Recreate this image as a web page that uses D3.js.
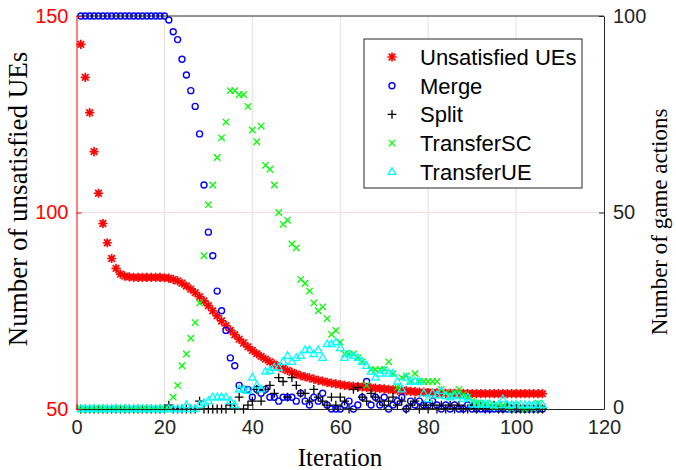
<!DOCTYPE html>
<html lang="en">
<head>
<meta charset="UTF-8">
<title>Unsatisfied UEs and game actions</title>
<script src="https://d3js.org/d3.v7.min.js"></script>
<style>
  body { margin: 0; background: #fff; }
  .tick text { font-family: "Liberation Sans", Arial, sans-serif; font-size: 20px; }
  .title { font-family: "Liberation Serif", "Times New Roman", serif; }
  .legend text { font-family: "Liberation Sans", Arial, sans-serif; font-size: 22px; }
</style>
</head>
<body>
<svg id="chart" width="676" height="470"></svg>
<script>
// iterations 1..106
const iterations = d3.range(1, 107);

const unsatisfied = [
  142.8, 134.4, 125.4, 115.5, 104.9, 97.2, 92.3, 88.3, 85.8, 84.3,
  83.8, 83.6, 83.5, 83.5, 83.5, 83.5, 83.5, 83.5, 83.5, 83.4,
  83.3, 83.0, 82.6, 82.0, 81.3, 80.5, 79.6, 78.6, 77.5, 76.3,
  75.0, 73.7, 72.4, 71.2, 70.0, 68.9, 67.8, 66.8, 65.8, 64.9,
  64.1, 63.4, 62.7, 62.0, 61.4, 60.8, 60.3, 59.8, 59.3, 58.9,
  58.5, 58.2, 57.9, 57.6, 57.3, 57.1, 56.8, 56.6, 56.4, 56.2,
  56.0, 55.9, 55.8, 55.7, 55.6, 55.5, 55.4, 55.3, 55.2, 55.1,
  55.0, 54.9, 54.8, 54.7, 54.6, 54.5, 54.4, 54.3, 54.3, 54.2,
  54.2, 54.1, 54.1, 54.0, 54.0, 54.0, 54.0, 54.0, 53.9, 53.9,
  53.9, 53.9, 53.9, 53.9, 53.9, 53.9, 53.9, 53.9, 53.9, 53.9,
  53.9, 53.9, 53.9, 53.9, 53.9, 53.9
];

const merge = [
  100, 100, 100, 100, 100, 100, 100, 100, 100, 100,
  100, 100, 100, 100, 100, 100, 100, 100, 100, 100,
  99, 96, 94, 89, 85, 81, 77, 70, 57, 45,
  39, 30, 25, 20, 13, 11, 6, 5, 5, 3,
  5, 4, 5, 3, 3, 2, 3, 3, 3, 2,
  4, 2, 1, 3, 2, 4, 1, 0, 0, 0,
  1, 2, 0, 1, 3, 7, 1, 3, 1, 3,
  0, 1, 2, 3, 0, 2, 1, 2, 1, 1,
  2, 1, 0, 1, 0, 1, 0, 0, 1, 0,
  0, 0, 0, 0, 0, 0, 0, 0, 0, 0,
  0, 0, 0, 0, 0, 0
];

const split = [
  0, 0, 0, 0, 0, 0, 0, 0, 0, 0,
  0, 0, 0, 0, 0, 0, 0, 0, 0, 0,
  1, 0, 0, 0, 0, 0, 0, 2, 0, 0,
  0, 0, 0, 0, 1, 0, 3, 0, 1, 2,
  5, 2, 5, 6, 4, 8, 7, 3, 8, 6,
  4, 4, 2, 5, 3, 2, 1, 3, 1, 3,
  2, 0, 5, 5.5, 3, 2, 4, 3, 2, 1,
  2, 3, 1, 2, 0, 1, 2, 0, 1, 0,
  1, 0, 1, 0, 1, 0, 1, 0, 0, 1,
  0, 1, 0, 0, 1, 0, 0, 1, 0, 0,
  0, 0, 0, 0, 0, 0
];

const transferSC = [
  0, 0, 0, 0, 0, 0, 0, 0, 0, 0,
  0, 0, 0, 0, 0, 0, 0, 0, 0, 0,
  0, 3, 6, 11, 14, 18, 22, 27, 39, 52,
  57, 64, 69, 73, 81, 81, 80, 80, 77, 71,
  68, 72, 62, 61, 57, 50, 47, 48, 42, 41,
  33, 32, 30, 27, 25, 26, 23, 19, 20, 17,
  14, 14, 14, 13, 12, 6, 10, 10, 10, 10,
  12, 9, 5.5, 8, 8.4, 7, 9, 7, 7, 7,
  7, 7, 5, 4, 3.5, 4, 5, 3.7, 3, 2,
  1.5, 1, 1.5, 1, 0.5, 1, 1, 0.5, 0, 1,
  0.5, 0, 0.5, 0, 1.5, 0.5
];

const transferUE = [
  0, 0, 0, 0, 0, 0, 0, 0, 0, 0,
  0, 0, 0, 0, 0, 0, 0, 0, 0, 0,
  0, 0, 0, 0, 1, 0, 0, 1, 1.5, 2,
  3, 3, 3, 3, 2, 1, 5, 5, 4.6, 8,
  6, 5, 9.5, 9.7, 10.5, 10.5, 12, 13.5, 12, 13,
  13.5, 15, 15, 14, 15, 13, 16.5, 16.5, 17, 15.5,
  13, 14, 13.5, 13, 12, 11, 9.5, 8, 9, 9.7,
  9, 9, 7, 5, 8, 7, 7, 7, 4, 2.5,
  4, 3.5, 4.6, 3.3, 3, 3.5, 3.3, 2.5, 3, 1.2,
  1.2, 1.2, 1.2, 1.2, 0.5, 1, 2.5, 1, 1, 1,
  1, 1, 1, 1, 1, 1
];

const xTicks = [0, 20, 40, 60, 80, 100, 120];
const leftTicks = [50, 100, 150];
const rightTicks = [0, 50, 100];
const legendLabels = ["Unsatisfied UEs", "Merge", "Split", "TransferSC", "TransferUE"];

const svg = d3.select("#chart");
const x = d3.scaleLinear().domain([0, 120]).range([76.5, 604]);
const yL = d3.scaleLinear().domain([50, 150]).range([409, 16]);
const yR = d3.scaleLinear().domain([0, 100]).range([409, 16]);

// marker shapes, MATLAB style
const markers = {
  star: r => { const a = r * 0.72; return `M0,${-r}L0,${r}M${-r},0L${r},0M${-a},${-a}L${a},${a}M${-a},${a}L${a},${-a}`; },
  plus: r => `M0,${-r}L0,${r}M${-r},0L${r},0`,
  cross: r => `M${-r},${-r}L${r},${r}M${-r},${r}L${r},${-r}`,
  tri: r => `M0,${-r}L${r * 0.9},${r * 0.6}L${-r * 0.9},${r * 0.6}Z`
};

// grid
svg.append("g").selectAll("line").data(xTicks.filter(d => d > 0 && d < 120)).join("line")
  .attr("x1", d => x(d)).attr("x2", d => x(d)).attr("y1", yL(150)).attr("y2", yL(50))
  .attr("stroke", "#e0e0e0").attr("stroke-width", 1);
svg.append("line").attr("x1", x(0)).attr("x2", x(120)).attr("y1", yL(100)).attr("y2", yL(100))
  .attr("stroke", "#ffdada").attr("stroke-width", 1);

// series
const series = [
  { values: unsatisfied, y: yL, color: "#ff0000", shape: "star", size: 4.6, w: 1.7 },
  { values: merge, y: yR, color: "#0000ff", shape: "circle", size: 3, w: 1.4 },
  { values: split, y: yR, color: "#000000", shape: "plus", size: 4.4, w: 1.3 },
  { values: transferSC, y: yR, color: "#00ff00", shape: "cross", size: 3.2, w: 1.3 },
  { values: transferUE, y: yR, color: "#00ffff", shape: "tri", size: 4.2, w: 1.3 }
];

function drawMarker(g, s) {
  if (s.shape === "circle") {
    g.append("circle").attr("r", s.size).attr("fill", "none").attr("stroke", s.color).attr("stroke-width", s.w);
  } else {
    g.append("path").attr("d", markers[s.shape](s.size)).attr("fill", "none")
      .attr("stroke", s.color).attr("stroke-width", s.w);
  }
}

series.forEach(s => {
  const g = svg.append("g");
  iterations.forEach((it, i) => {
    const m = g.append("g").attr("transform", `translate(${x(it)},${s.y(s.values[i])})`);
    drawMarker(m, s);
  });
});

// axes
svg.append("line").attr("x1", x(0)).attr("x2", x(120)).attr("y1", 16).attr("y2", 16)
  .attr("stroke", "#262626").attr("stroke-width", 1);

const xAxis = svg.append("g").attr("transform", "translate(0,409)")
  .call(d3.axisBottom(x).tickValues(xTicks).tickSizeInner(-5).tickSizeOuter(0).tickPadding(11));
xAxis.selectAll("line, path").attr("stroke", "#262626");
xAxis.selectAll("text").attr("fill", "#262626");

const leftAxis = svg.append("g").attr("transform", `translate(${x(0)},0)`)
  .call(d3.axisLeft(yL).tickValues(leftTicks).tickSizeInner(-5).tickSizeOuter(0).tickPadding(8));
leftAxis.selectAll("line, path").attr("stroke", "#ff0000");
leftAxis.selectAll("text").attr("fill", "#ff0000");

const rightAxis = svg.append("g").attr("transform", `translate(${x(120)},0)`)
  .call(d3.axisRight(yR).tickValues(rightTicks).tickSizeInner(-5).tickSizeOuter(0).tickPadding(9));
rightAxis.selectAll("line, path").attr("stroke", "#262626");
rightAxis.selectAll("text").attr("fill", "#262626");
// keep the right "0" clear of the "120" below it
rightAxis.selectAll("text").attr("dy", d => d === 0 ? "0.2em" : "0.32em");

// titles
svg.append("text").attr("class", "title").attr("text-anchor", "middle").style("font-size", "27px")
  .attr("transform", "translate(27,199) rotate(-90)").text("Number of unsatisfied UEs");
svg.append("text").attr("class", "title").attr("text-anchor", "middle").style("font-size", "23px")
  .attr("transform", "translate(667,222) rotate(-90)").text("Number of game actions");
svg.append("text").attr("class", "title").attr("text-anchor", "middle").style("font-size", "25px")
  .attr("x", 340).attr("y", 466).text("Iteration");

// legend
const legend = svg.append("g").attr("class", "legend");
legend.append("rect").attr("x", 364).attr("y", 39).attr("width", 218).attr("height", 149)
  .attr("fill", "#fff").attr("stroke", "#262626").attr("stroke-width", 1);
legendLabels.forEach((label, i) => {
  const yy = 57 + i * 28.7;
  const m = legend.append("g").attr("transform", `translate(392,${yy})`);
  drawMarker(m, series[i]);
  legend.append("text").attr("x", 420).attr("y", yy).attr("dy", "0.36em").attr("fill", "#000").text(label);
});
</script>
</body>
</html>
